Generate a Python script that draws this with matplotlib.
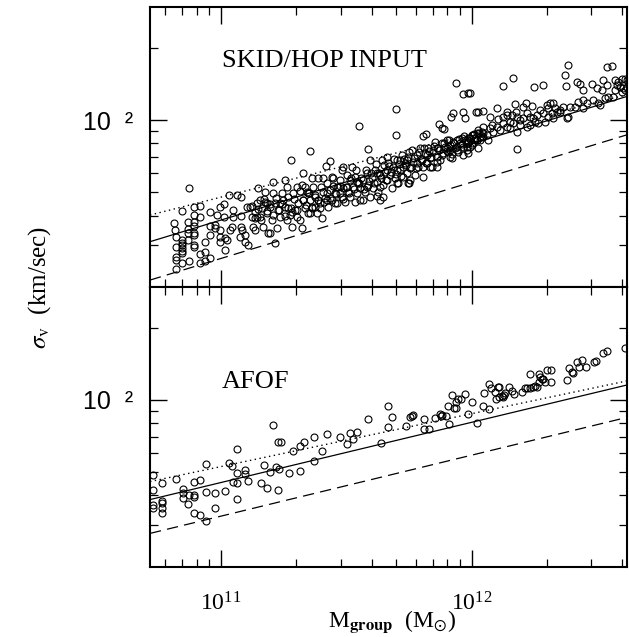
import numpy as np
import matplotlib.pyplot as plt
from matplotlib.ticker import LogLocator, NullFormatter

plt.rcParams['font.family'] = ['Liberation Serif', 'DejaVu Serif']
plt.rcParams['mathtext.fontset'] = 'stix'

# values: (log10 M_group [Msun], log10 sigma_v [km/s])

# SKID/HOP panel, low-mass end
top_left = [
    (10.813, 1.572), (10.817, 1.542), (10.821, 1.514), (10.821, 1.472), (10.821, 1.431),
    (10.821, 1.417), (10.821, 1.378), (10.846, 1.622), (10.846, 1.500), (10.846, 1.489),
    (10.846, 1.478), (10.846, 1.467), (10.846, 1.456), (10.846, 1.444), (10.846, 1.406),
    (10.870, 1.576), (10.870, 1.544), (10.870, 1.531), (10.870, 1.500), (10.873, 1.413),
    (10.873, 1.715), (10.894, 1.639), (10.894, 1.604), (10.894, 1.574), (10.894, 1.560),
    (10.894, 1.531), (10.894, 1.521), (10.894, 1.479), (10.894, 1.472), (10.917, 1.642),
    (10.917, 1.597), (10.917, 1.440), (10.917, 1.403), (10.936, 1.493), (10.936, 1.449),
    (10.936, 1.413), (10.956, 1.618), (10.956, 1.558), (10.956, 1.521), (10.956, 1.424),
    (10.976, 1.563), (10.976, 1.549), (10.983, 1.604), (10.996, 1.639), (10.996, 1.542),
    (10.996, 1.514), (10.996, 1.493), (11.012, 1.650), (11.012, 1.597), (11.015, 1.507),
    (11.015, 1.458), (11.023, 1.500), (11.033, 1.688), (11.036, 1.542), (11.044, 1.556),
    (11.049, 1.597), (11.049, 1.625), (11.063, 1.688), (11.080, 1.681), (11.080, 1.600),
    (11.080, 1.556), (11.083, 1.542), (11.076, 1.514), (11.095, 1.521), (11.095, 1.493),
    (11.107, 1.479), (11.103, 1.639),
]

# SKID/HOP panel, 1e11 - 3e11
top_mid = [
    (11.116, 1.639), (11.123, 1.597), (11.129, 1.556), (11.136, 1.618), (11.143, 1.653),
    (11.149, 1.715), (11.156, 1.597), (11.162, 1.632), (11.169, 1.556), (11.176, 1.660),
    (11.182, 1.611), (11.189, 1.528), (11.196, 1.639), (11.202, 1.583), (11.209, 1.743),
    (11.216, 1.653), (11.222, 1.549), (11.229, 1.625), (11.236, 1.597), (11.242, 1.694),
    (11.249, 1.667), (11.256, 1.750), (11.262, 1.583), (11.269, 1.632), (11.275, 1.604),
    (11.282, 1.556), (11.289, 1.694), (11.295, 1.625), (11.302, 1.597), (11.309, 1.653),
    (11.315, 1.583), (11.322, 1.549), (11.322, 1.729), (11.329, 1.667), (11.335, 1.632),
    (11.342, 1.701), (11.349, 1.611), (11.355, 1.667), (11.362, 1.639), (11.369, 1.722),
    (11.375, 1.681), (11.382, 1.611), (11.389, 1.757), (11.395, 1.653), (11.402, 1.590),
    (11.408, 1.701), (11.415, 1.674), (11.422, 1.736), (11.428, 1.639), (11.435, 1.708),
    (11.442, 1.667), (11.448, 1.757), (11.455, 1.694), (11.462, 1.653), (11.468, 1.722),
    (11.475, 1.750), (11.482, 1.681), (11.488, 1.715), (11.495, 1.660), (11.502, 1.771),
    (11.508, 1.701), (11.515, 1.681), (11.408, 1.757), (11.362, 1.757), (11.329, 1.778),
    (11.302, 1.722), (11.262, 1.722), (11.209, 1.694), (11.176, 1.701), (11.156, 1.667),
    (11.136, 1.542), (11.196, 1.528), (11.236, 1.653), (11.355, 1.611), (11.395, 1.632),
    (11.455, 1.653), (11.488, 1.806), (11.521, 1.806), (11.482, 1.792), (11.217, 1.486),
    (11.279, 1.833), (11.355, 1.871), (11.418, 1.808), (11.435, 1.829), (11.442, 1.764),
    (11.335, 1.722), (11.349, 1.694), (11.375, 1.639), (11.389, 1.667), (11.422, 1.667),
    (11.462, 1.722), (11.475, 1.694), (11.502, 1.722), (11.282, 1.618), (11.256, 1.639),
    (11.182, 1.653), (11.143, 1.597),
]

# SKID/HOP panel, the crowded part of 1e11 - 3e11
top_mid_dense = [
    (11.125, 1.643), (11.137, 1.591), (11.149, 1.629), (11.161, 1.582), (11.173, 1.671),
    (11.185, 1.619), (11.197, 1.652), (11.209, 1.605), (11.221, 1.673), (11.233, 1.626),
    (11.245, 1.649), (11.257, 1.602), (11.269, 1.680), (11.281, 1.633), (11.293, 1.671),
    (11.305, 1.625), (11.317, 1.703), (11.329, 1.666), (11.341, 1.644), (11.353, 1.697),
    (11.365, 1.635), (11.377, 1.688), (11.389, 1.666), (11.401, 1.719), (11.413, 1.658),
    (11.425, 1.696), (11.437, 1.674), (11.449, 1.727), (11.461, 1.690), (11.473, 1.723),
    (11.485, 1.671), (11.497, 1.719), (11.509, 1.697),
]

# SKID/HOP panel, dense band 3e11 - 1e12
top_band = [
    (11.515, 1.750), (11.528, 1.722), (11.535, 1.764), (11.541, 1.694), (11.548, 1.736),
    (11.555, 1.667), (11.568, 1.750), (11.575, 1.701), (11.581, 1.778), (11.588, 1.729),
    (11.595, 1.681), (11.601, 1.757), (11.608, 1.715), (11.615, 1.792), (11.621, 1.743),
    (11.628, 1.701), (11.635, 1.771), (11.641, 1.833), (11.648, 1.729), (11.654, 1.785),
    (11.661, 1.750), (11.668, 1.819), (11.674, 1.771), (11.681, 1.715), (11.688, 1.806),
    (11.694, 1.757), (11.701, 1.833), (11.708, 1.736), (11.714, 1.792), (11.721, 1.854),
    (11.728, 1.764), (11.734, 1.819), (11.741, 1.778), (11.748, 1.847), (11.754, 1.799),
    (11.761, 1.875), (11.768, 1.826), (11.774, 1.771), (11.781, 1.854), (11.787, 1.806),
    (11.794, 1.882), (11.801, 1.833), (11.807, 1.764), (11.814, 1.861), (11.821, 1.819),
    (11.827, 1.882), (11.834, 1.840), (11.841, 1.806), (11.847, 1.875), (11.854, 1.910),
    (11.861, 1.847), (11.867, 1.882), (11.874, 1.833), (11.881, 1.903), (11.887, 1.861),
    (11.894, 1.889), (11.900, 1.917), (11.907, 1.868), (11.914, 1.896), (11.920, 1.840),
    (11.927, 1.910), (11.934, 1.882), (11.940, 1.917), (11.947, 1.868), (11.954, 1.903),
    (11.960, 1.924), (11.967, 1.889), (11.974, 1.917), (11.980, 1.875), (11.987, 1.903),
    (11.994, 1.924), (12.000, 1.896), (12.007, 1.938), (12.013, 1.917), (12.020, 1.944),
    (12.033, 1.917), (12.040, 1.951), (11.595, 1.833), (11.648, 1.681), (11.701, 1.736),
    (11.754, 1.750), (11.807, 1.806), (11.861, 1.806), (11.914, 1.847), (11.967, 1.854),
    (11.661, 1.847), (11.714, 1.833), (11.635, 1.667), (11.568, 1.667), (11.535, 1.660),
    (11.745, 1.739), (11.751, 1.739), (11.621, 1.683), (11.805, 1.933), (11.818, 1.940),
    (11.585, 1.878), (11.698, 1.938), (11.698, 2.047), (11.551, 1.976), (11.871, 1.982),
    (11.881, 1.968), (11.890, 1.963), (11.541, 1.743), (11.581, 1.722), (11.621, 1.778),
    (11.661, 1.792), (11.701, 1.792), (11.741, 1.833), (11.781, 1.819), (11.821, 1.854),
    (11.861, 1.882), (11.900, 1.882), (11.940, 1.889), (11.980, 1.917), (12.020, 1.917),
    (11.555, 1.715), (11.635, 1.722), (11.728, 1.806), (11.834, 1.806), (11.914, 1.875),
    (12.047, 1.931),
]

# SKID/HOP panel, the darkest stretch of the band
top_band_dense = [
    (11.52, 1.758), (11.53, 1.712), (11.54, 1.790), (11.55, 1.739), (11.56, 1.758),
    (11.57, 1.712), (11.58, 1.791), (11.59, 1.744), (11.60, 1.778), (11.61, 1.737),
    (11.62, 1.816), (11.63, 1.779), (11.64, 1.758), (11.65, 1.812), (11.66, 1.751),
    (11.67, 1.810), (11.68, 1.783), (11.69, 1.837), (11.70, 1.776), (11.71, 1.815),
    (11.72, 1.768), (11.73, 1.837), (11.74, 1.811), (11.75, 1.865), (11.76, 1.804),
    (11.77, 1.842), (11.78, 1.801), (11.79, 1.865), (11.80, 1.839), (11.81, 1.882),
    (11.82, 1.821), (11.83, 1.870), (11.84, 1.844), (11.85, 1.893), (11.86, 1.826),
    (11.87, 1.875), (11.88, 1.854), (11.89, 1.903), (11.90, 1.872), (11.91, 1.915),
    (11.92, 1.859), (11.93, 1.903), (11.94, 1.877), (11.95, 1.920), (11.96, 1.899),
    (11.97, 1.933), (11.98, 1.887), (11.99, 1.926), (12.00, 1.904), (12.01, 1.943),
    (12.02, 1.917), (12.03, 1.946), (12.04, 1.934),
]

# SKID/HOP panel, above 1e12
top_right = [
    (12.299, 2.063), (12.313, 2.072), (12.326, 2.069), (12.333, 2.049), (12.339, 2.035),
    (12.319, 2.028), (12.306, 2.014), (12.286, 2.028), (12.273, 2.042), (12.259, 2.021),
    (12.246, 2.007), (12.233, 2.014), (12.220, 2.028), (12.206, 2.007), (12.193, 2.000),
    (12.180, 2.014), (12.166, 1.986), (12.153, 1.993), (12.140, 1.972), (12.127, 1.986),
    (12.113, 1.958), (12.100, 1.972), (12.087, 1.951), (12.073, 1.965), (12.060, 1.938),
    (12.047, 1.944), (12.033, 1.931), (12.027, 1.958), (12.220, 1.972), (12.180, 1.951),
    (12.153, 1.965), (12.233, 1.979), (12.266, 1.986), (12.293, 1.993), (12.379, 2.007),
    (12.386, 2.014), (12.366, 2.056), (12.393, 2.056), (12.412, 2.056), (12.446, 2.083),
    (12.459, 2.069), (12.486, 2.083), (12.506, 2.069), (12.512, 2.063), (12.532, 2.090),
    (12.446, 2.049), (12.426, 2.076), (12.353, 2.042), (12.326, 2.007), (12.140, 2.021),
    (12.127, 2.011), (12.107, 2.003), (12.206, 2.056), (12.177, 2.035), (12.080, 1.979),
    (12.047, 1.972), (12.067, 1.917), (12.013, 1.924), (12.000, 1.938), (11.987, 1.910),
    (11.994, 1.889), (12.027, 1.882), (11.987, 1.861), (12.353, 2.035), (12.306, 2.049),
    (12.253, 1.993), (12.193, 1.979), (12.160, 2.021),
    (12.572, 2.167), (12.585, 2.160), (12.599, 2.169), (12.612, 2.169), (12.621, 2.167),
    (12.579, 2.146), (12.592, 2.139), (12.605, 2.132), (12.619, 2.139), (12.572, 2.125),
    (12.599, 2.118), (12.612, 2.125), (12.565, 2.097), (12.539, 2.146), (12.545, 2.094),
]

# SKID/HOP panel, high-sigma outliers
top_high = [
    (12.386, 2.229), (12.539, 2.222), (12.561, 2.226), (12.166, 2.174), (12.127, 2.143),
    (12.249, 2.139), (12.286, 2.146), (12.373, 2.188), (12.375, 2.143), (11.936, 2.156),
    (11.964, 2.108), (11.987, 2.114), (11.994, 2.114), (12.419, 2.160), (12.433, 2.149),
    (12.479, 2.149), (12.523, 2.167), (12.499, 2.132), (12.446, 2.125), (12.519, 2.125),
    (11.924, 2.031), (11.916, 2.011), (11.964, 2.035), (11.974, 2.007), (12.017, 2.035),
    (12.027, 2.035), (12.044, 2.039), (12.100, 2.051), (12.073, 2.011), (12.140, 2.032),
    (12.173, 2.065), (12.217, 2.072), (12.240, 2.058), (12.182, 1.878),
]

# AFOF panel
afof = [
    (10.730, 1.686), (10.730, 1.625), (10.730, 1.562), (10.730, 1.551), (10.763, 1.655),
    (10.763, 1.580), (10.763, 1.570), (10.763, 1.549), (10.763, 1.528), (10.821, 1.672),
    (10.847, 1.630), (10.847, 1.611), (10.847, 1.592), (10.870, 1.565), (10.874, 1.603),
    (10.893, 1.660), (10.893, 1.603), (10.893, 1.595), (10.893, 1.530), (10.916, 1.667),
    (10.916, 1.521), (10.939, 1.733), (10.939, 1.618), (10.939, 1.497), (10.977, 1.614),
    (10.977, 1.549), (11.015, 1.622), (11.032, 1.736), (11.045, 1.725), (11.049, 1.660),
    (11.063, 1.797), (11.063, 1.697), (11.063, 1.653), (11.063, 1.589), (11.095, 1.708),
    (11.095, 1.692), (11.108, 1.663), (11.161, 1.653), (11.173, 1.730), (11.185, 1.632),
    (11.197, 1.700), (11.206, 1.896), (11.218, 1.722), (11.229, 1.826), (11.229, 1.625),
    (11.231, 1.711), (11.239, 1.826), (11.270, 1.695), (11.288, 1.788), (11.315, 1.808),
    (11.315, 1.703), (11.331, 1.825), (11.372, 1.846), (11.372, 1.747), (11.402, 1.788),
    (11.423, 1.860), (11.473, 1.846), (11.503, 1.818), (11.515, 1.864), (11.525, 1.839),
    (11.541, 1.868), (11.586, 1.922), (11.638, 1.822), (11.665, 1.975), (11.665, 1.889),
    (11.681, 1.928), (11.737, 1.892), (11.754, 1.928), (11.761, 1.933), (11.767, 1.938),
    (11.811, 1.920), (11.811, 1.879), (11.830, 1.879), (11.854, 1.926), (11.874, 1.942),
    (11.878, 1.933), (11.883, 1.936), (11.896, 1.933), (11.907, 1.975), (11.909, 1.900),
    (11.923, 2.021), (11.929, 1.965), (11.936, 1.965), (11.936, 1.993), (11.947, 2.003),
    (11.956, 2.003), (11.973, 2.024), (11.984, 1.942), (12.000, 1.990), (12.022, 1.903),
    (12.044, 1.975), (12.048, 2.028), (12.069, 2.067), (12.070, 1.961), (12.077, 2.049),
    (12.093, 2.035), (12.096, 2.004), (12.104, 2.055), (12.109, 2.055), (12.109, 2.014),
    (12.120, 2.017), (12.129, 2.020), (12.133, 2.028), (12.126, 2.011), (12.149, 2.055),
    (12.160, 2.038), (12.170, 2.025), (12.202, 2.035), (12.213, 2.049), (12.222, 2.051),
    (12.233, 2.051), (12.246, 2.055), (12.253, 2.058), (12.259, 2.055), (12.233, 2.107),
    (12.268, 2.107), (12.272, 2.095), (12.279, 2.086), (12.286, 2.086), (12.268, 2.076),
    (12.292, 2.076), (12.315, 2.076), (12.299, 2.125), (12.315, 2.125), (12.379, 2.083),
    (12.389, 2.132), (12.401, 2.118), (12.405, 2.111), (12.419, 2.157), (12.428, 2.136),
    (12.441, 2.167), (12.456, 2.139), (12.489, 2.157), (12.495, 2.164), (12.525, 2.197),
    (12.539, 2.205), (12.611, 2.215),
]

# reference relations, log sigma at the two ends of the mass range
line_m = [10.717, 12.622]
top_solid = [1.493, 2.099]
top_dotted = [1.604, 2.106]
top_dashed = [1.333, 1.939]
bot_solid = [1.585, 2.063]
bot_dotted = [1.660, 2.080]
bot_dashed = [1.444, 1.928]

fig = plt.figure(figsize=(6.29, 6.37), dpi=100)
ax1 = fig.add_axes([0.2385, 0.5494, 0.7591, 0.4396])
ax2 = fig.add_axes([0.2385, 0.1099, 0.7591, 0.4396])

top_pts = np.array(top_left + top_mid + top_mid_dense + top_band + top_band_dense
                   + top_right + top_high)
bot_pts = np.array(afof)
lm = 10 ** np.array(line_m)

panels = [
    (ax1, top_pts, top_solid, top_dotted, top_dashed, 'SKID/HOP INPUT', 0.786),
    (ax2, bot_pts, bot_solid, bot_dotted, bot_dashed, 'AFOF', 0.638),
]
for ax, pts, sol, dot, das, name, ty in panels:
    ax.set_xscale('log')
    ax.set_yscale('log')
    ax.plot(10 ** pts[:, 0], 10 ** pts[:, 1], 'o', mfc='none', mec='k', ms=5.0, mew=0.8)
    ax.plot(lm, 10 ** np.array(sol), 'k-', lw=0.9)
    ax.plot(lm, 10 ** np.array(dot), color='k', lw=1.0, ls=(0, (1, 2.5)))
    ax.plot(lm, 10 ** np.array(das), color='k', lw=0.9, ls=(0, (9, 5)))
    ax.set_xlim(10 ** 10.717, 10 ** 12.622)
    ax.set_ylim(10 ** 1.304, 10 ** 2.471)
    ax.text(0.151, ty, name, transform=ax.transAxes, fontsize=19, va='baseline')

    ax.set_yticks([100])
    ax.set_yticklabels(['10  \u00b2'], fontfamily='Liberation Sans', fontsize=18)
    ax.yaxis.set_minor_locator(LogLocator(base=10, subs=np.arange(2, 10)))
    ax.yaxis.set_minor_formatter(NullFormatter())
    ax.set_xticks([1e11, 1e12])
    ax.xaxis.set_minor_locator(LogLocator(base=10, subs=np.arange(2, 10)))
    ax.xaxis.set_minor_formatter(NullFormatter())
    ax.tick_params(which='both', direction='in', top=True, right=True)
    ax.tick_params(which='major', length=12, width=1.0)
    ax.tick_params(which='minor', length=5.5, width=0.9)
    ax.tick_params(axis='y', pad=12)
    ax.tick_params(axis='x', pad=18)
    for s in ax.spines.values():
        s.set_linewidth(1.5)

ax1.tick_params(labelbottom=False)
ax2.set_xticklabels([r'$\mathregular{10^{11}}$', r'$\mathregular{10^{12}}$'], fontsize=17)

fig.text(392 / 629, 1 - 622 / 637, r'M$_{\mathbf{group}}$  (M$_{\odot}$)',
         fontsize=17, ha='center', va='center')
fig.text(40 / 629, 1 - 287 / 637, r'$\sigma_{\mathrm{v}}$  (km/sec)',
         fontsize=18, rotation=90, ha='center', va='center')

fig.savefig('out.png', dpi=100)
